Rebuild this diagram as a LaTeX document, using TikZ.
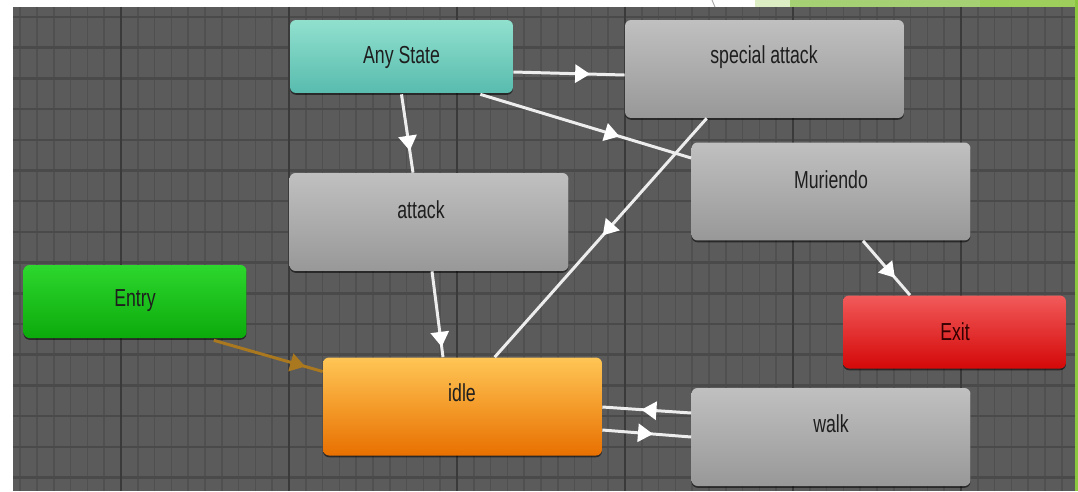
\documentclass[tikz,border=0pt]{standalone}
\usepackage{fontspec}
\setmainfont[FakeStretch=0.72]{Liberation Sans}
\usetikzlibrary{arrows.meta,decorations.markings,shadows,calc}
\definecolor{bg}{RGB}{91,91,91}
\definecolor{minorline}{RGB}{80,80,80}
\definecolor{hline}{RGB}{74,74,74}
\definecolor{majorline}{RGB}{58,58,58}
\definecolor{greytop}{RGB}{192,192,192}
\definecolor{greybot}{RGB}{152,152,152}
\definecolor{anytop}{RGB}{145,224,206}
\definecolor{anybot}{RGB}{88,188,174}
\definecolor{entrytop}{RGB}{45,215,45}
\definecolor{entrybot}{RGB}{12,170,12}
\definecolor{exittop}{RGB}{242,90,90}
\definecolor{exitbot}{RGB}{212,8,8}
\definecolor{idletop}{RGB}{255,198,85}
\definecolor{idlebot}{RGB}{232,112,0}
\definecolor{txt}{RGB}{30,30,30}
\definecolor{entryline}{RGB}{170,120,30}
\definecolor{leaf}{RGB}{141,198,63}
\definecolor{leafdots}{RGB}{165,208,115}
\begin{document}
\begin{tikzpicture}[x=0.02cm,y=-0.02cm,
  statebox/.style={rectangle, rounded corners=3.4pt, inner sep=0pt, draw=none,
    drop shadow={shadow xshift=0pt, shadow yshift=-1pt, opacity=0.55, fill=black}},
  bigstate/.style={statebox, minimum width=5.58cm, minimum height=1.96cm},
  smallstate/.style={statebox, minimum width=4.46cm, minimum height=1.46cm},
  greyfill/.style={top color=greytop, bottom color=greybot},
  lbl/.style={inner sep=0pt, text=txt, font=\fontsize{14}{16}\selectfont},
  trans/.style={draw=white!93!black, line width=1.7pt, postaction={decorate},
    decoration={markings, mark=at position #1 with {\arrow[white]{Triangle[length=0.3cm,width=0.36cm]}}}},
  trans/.default=0.5,
  entrytrans/.style={draw=entryline, line width=1.7pt, postaction={decorate},
    decoration={markings, mark=at position #1 with {\arrow[entryline]{Triangle[length=0.3cm,width=0.36cm]}}}}
]
\useasboundingbox (0,0) rectangle (1078,491);
\fill[white] (0,0) rectangle (1078,491);
% background grid
\fill[bg] (13,7) rectangle (1075,491);
\begin{scope}
  \clip (13,7) rectangle (1075,491);
  \foreach \i in {0,...,63} \draw[minorline, line width=0.9pt] ({20.2+\i*16.8},7) -- ++(0,484);
  \foreach \i in {0,...,15} \draw[hline, line width=1.4pt] (13,{17+\i*30.7}) -- ++(1062,0);
  \foreach \i in {0,...,5} \draw[majorline, line width=1.2pt] ({121+\i*168},7) -- ++(0,484);
\end{scope}
% top-right decoration
\draw[gray!70, line width=0.5pt] (712,0) .. controls (713.5,3) .. (715,7);
\fill[leaf!30!white] (755,0) rectangle (790,7);
\fill[leafdots] (790,0) rectangle (980,7);
\fill[leaf!85!white] (980,0) rectangle (1078,7);
\fill[leaf] (1075,0) rectangle (1078,491);
% states
\node[smallstate, top color=anytop, bottom color=anybot] (anystate) at (401.5,56.5) {};
\node[bigstate, greyfill] (special) at (764.5,69) {};
\node[bigstate, greyfill] (muriendo) at (831,191.5) {};
\node[bigstate, greyfill] (attack) at (429,222) {};
\node[smallstate, top color=entrytop, bottom color=entrybot] (entry) at (135,301.5) {};
\node[smallstate, top color=exittop, bottom color=exitbot] (exit) at (954.5,332) {};
\node[bigstate, top color=idletop, bottom color=idlebot] (idle) at (462.5,406.5) {};
\node[bigstate, greyfill] (walk) at (831,437) {};
% labels
\node[lbl] (tany) at (401.5,57) {Any State};
\node[lbl] (tspecial) at (764,57) {special attack};
\node[lbl] (tmuriendo) at (831,180) {Muriendo};
\node[lbl] (tattack) at (421,210) {attack};
\node[lbl] (tentry) at (135,301) {Entry};
\node[lbl, text=black!80!red] (texit) at (955,332) {Exit};
\node[lbl] (tidle) at (462,393) {idle};
\node[lbl] (twalk) at (831,424) {walk};
% transitions
\draw[trans=0.69] ($(anystate.east)+(0,15.5)$) -- ($(special.west)+(0,6)$);
\draw[trans=0.66] ($(anystate.south east)+(-33,1)$) -- ($(muriendo.west)+(0,-33.5)$);
\draw[trans=0.72] ($(anystate.south)+(0,1)$) -- ($(attack.north)+(-16,0)$);
\draw[trans=0.49] ($(special.south west)+(82,0)$) -- ($(idle.north west)+(172,0)$);
\draw[trans=0.88] ($(attack.south)+(3,0)$) -- ($(idle.north)+(-19.5,0)$);
\draw[trans=0.68] ($(muriendo.south)+(32,0)$) -- ($(exit.north)+(-44.5,0)$);
\draw[trans=0.56] ($(walk.west)+(0,-24)$) -- ($(idle.east)+(0,0.5)$);
\draw[trans=0.57] ($(idle.east)+(0,23.5)$) -- ($(walk.west)+(0,0)$);
\draw[entrytrans=0.84] ($(entry.south east)+(-33,2)$) -- ($(idle.west)+(0,-35)$);
\end{tikzpicture}
\end{document}
